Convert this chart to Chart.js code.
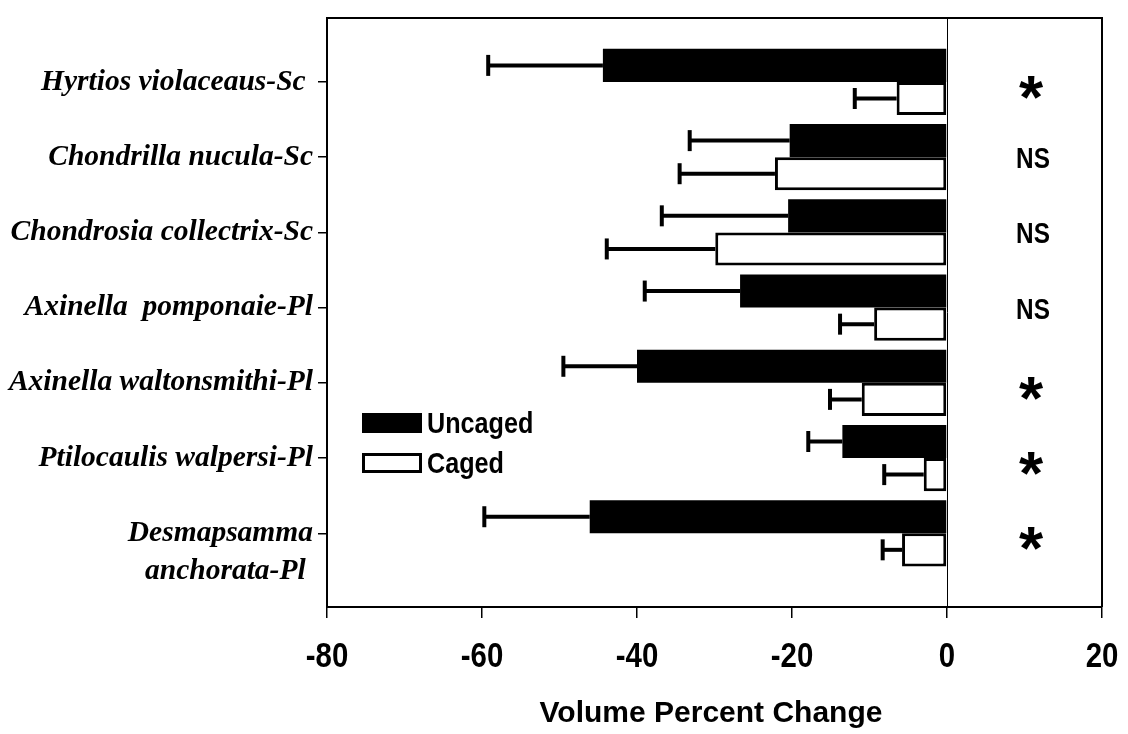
<!DOCTYPE html>
<html>
<head>
<meta charset="utf-8">
<script src="https://cdn.jsdelivr.net/npm/chart.js@4.4.1/dist/chart.umd.min.js"></script>
<style>
  html, body { margin: 0; padding: 0; background: #fff; }
</style>
</head>
<body>
<canvas id="chart" width="1128" height="734"></canvas>
<script>
// species labels, top to bottom (trailing / double spaces as in the original)
const species = [
  'Hyrtios violaceaus-Sc ',
  'Chondrilla nucula-Sc',
  'Chondrosia collectrix-Sc',
  'Axinella  pomponaie-Pl',
  'Axinella waltonsmithi-Pl',
  'Ptilocaulis walpersi-Pl',
  ['', 'Desmapsamma', 'anchorata-Pl ']
]
const positions = [1, 2, 3, 4, 5, 6, 7]

const uncaged = [-44.4, -20.3, -20.5, -26.7, -40.0, -13.5, -46.1]
const uncagedErr = [14.8, 12.9, 16.3, 12.3, 9.5, 4.4, 13.6]
const caged = [-6.5, -22.2, -29.9, -9.4, -11.0, -3.0, -5.8]
const cagedErr = [5.4, 12.3, 14.0, 4.4, 4.1, 5.1, 2.5]

const significance = ['*', 'NS', 'NS', 'NS', '*', '*', '*']
const xTicks = [-80, -60, -40, -20, 0, 20]
const xTitle = 'Volume Percent Change'

const SANS = '"Liberation Sans", Arial, sans-serif'
const SERIF = '"Liberation Serif", "Times New Roman", serif'

// bold sans text, optionally squeezed horizontally like the narrow face of the original
function boldText(ctx, text, x, y, size, align, squeeze) {
  ctx.save()
  ctx.translate(x, y)
  ctx.scale(squeeze, 1)
  ctx.font = 'bold ' + size + 'px ' + SANS
  ctx.textAlign = align
  ctx.textBaseline = 'alphabetic'
  ctx.fillStyle = '#000'
  ctx.fillText(text, 0, 0)
  ctx.restore()
}

// box around the plot + thin line at zero
const framePlugin = {
  id: 'frame',
  beforeDatasetsDraw(chart) {
    const { ctx, chartArea: a, scales } = chart
    const x0 = Math.round(scales.x.getPixelForValue(0)) + 0.5
    ctx.save()
    ctx.strokeStyle = '#000'
    ctx.lineWidth = 1
    ctx.beginPath()
    ctx.moveTo(x0, a.top)
    ctx.lineTo(x0, a.bottom)
    ctx.stroke()
    ctx.lineWidth = 2
    ctx.beginPath()
    ctx.moveTo(a.left, a.top)
    ctx.lineTo(a.right, a.top)
    ctx.lineTo(a.right, a.bottom)
    ctx.stroke()
    ctx.restore()
  }
}

// one-sided error bars (towards more negative values)
const errorBarPlugin = {
  id: 'errorBars',
  afterDatasetsDraw(chart) {
    const { ctx, scales } = chart
    const errs = [uncagedErr, cagedErr]
    ctx.save()
    ctx.strokeStyle = '#000'
    ctx.lineWidth = 4
    chart.data.datasets.forEach((ds, di) => {
      chart.getDatasetMeta(di).data.forEach((bar, i) => {
        const end = scales.x.getPixelForValue(ds.data[i].x - errs[di][i])
        ctx.beginPath()
        ctx.moveTo(bar.x, bar.y)
        ctx.lineTo(end, bar.y)
        ctx.stroke()
        ctx.beginPath()
        ctx.moveTo(end, bar.y - 10.5)
        ctx.lineTo(end, bar.y + 10.5)
        ctx.stroke()
      })
    })
    ctx.restore()
  }
}

// x tick labels, axis title, significance marks and the legend
const textPlugin = {
  id: 'texts',
  afterDraw(chart) {
    const { ctx, scales } = chart
    xTicks.forEach((v) => {
      boldText(ctx, String(v), scales.x.getPixelForValue(v), 667, 35, 'center', 0.84)
    })
    boldText(ctx, xTitle, 711, 722, 30, 'center', 1)

    const xp = scales.x.getPixelForValue(11.1)
    significance.forEach((s, i) => {
      const yp = scales.y.getPixelForValue(positions[i])
      if (s === '*') {
        boldText(ctx, s, xp - 2, yp + 36, 62, 'center', 1)
      } else {
        boldText(ctx, s, xp, yp + 11, 29, 'center', 0.84)
      }
    })

    // legend
    const lx = 362, ly = [413, 453]
    ctx.save()
    chart.data.datasets.forEach((ds, di) => {
      ctx.fillStyle = ds.backgroundColor
      ctx.fillRect(lx, ly[di], 60, 20)
      if (ds.borderWidth) {
        ctx.lineWidth = 3
        ctx.strokeStyle = '#000'
        ctx.strokeRect(lx + 1.5, ly[di] + 1.5, 57, 17)
      }
      boldText(ctx, ds.label, 427, ly[di] + 20, 30, 'left', 0.84)
    })
    ctx.restore()
  }
}

new Chart(document.getElementById('chart').getContext('2d'), {
  type: 'bar',
  data: {
    datasets: [
      {
        label: 'Uncaged',
        data: uncaged.map((v, i) => ({ x: v, y: positions[i] })),
        backgroundColor: '#000',
        borderWidth: 0
      },
      {
        label: 'Caged',
        data: caged.map((v, i) => ({ x: v, y: positions[i] })),
        backgroundColor: '#fff',
        borderColor: '#000',
        borderWidth: 3,
        borderSkipped: false
      }
    ]
  },
  options: {
    responsive: false,
    animation: false,
    indexAxis: 'y',
    categoryPercentage: 0.88,
    barPercentage: 1,
    layout: { padding: { top: 18, right: 26, left: 0, bottom: 0 } },
    plugins: {
      legend: { display: false },
      tooltip: { enabled: false }
    },
    scales: {
      x: {
        type: 'linear',
        min: -80,
        max: 20,
        afterBuildTicks: (s) => { s.ticks = xTicks.map((v) => ({ value: v })) },
        afterFit: (s) => {
          s.height = 127
          s.paddingLeft = 0
          s.paddingRight = 0
        },
        grid: { drawOnChartArea: false, tickLength: 11, tickColor: '#000', lineWidth: 1.5 },
        border: { color: '#000', width: 2 },
        ticks: { display: false, autoSkip: false }
      },
      y: {
        type: 'linear',
        reverse: true,
        offset: false,
        min: 0.15,
        max: 7.98,
        afterBuildTicks: (s) => { s.ticks = positions.map((v) => ({ value: v })) },
        afterFit: (s) => {
          s.width = 327
          s.paddingTop = 0
          s.paddingBottom = 0
        },
        grid: { offset: false, drawOnChartArea: false, tickLength: 9, tickColor: '#000', lineWidth: 1.5 },
        border: { color: '#000', width: 2 },
        ticks: {
          color: '#000',
          padding: 5,
          autoSkip: false,
          callback: (v) => species[positions.indexOf(v)],
          font: { family: SERIF, size: 29.5, style: 'italic', weight: 'bold', lineHeight: 1.3 }
        }
      }
    }
  },
  plugins: [framePlugin, errorBarPlugin, textPlugin]
})
</script>
</body>
</html>
